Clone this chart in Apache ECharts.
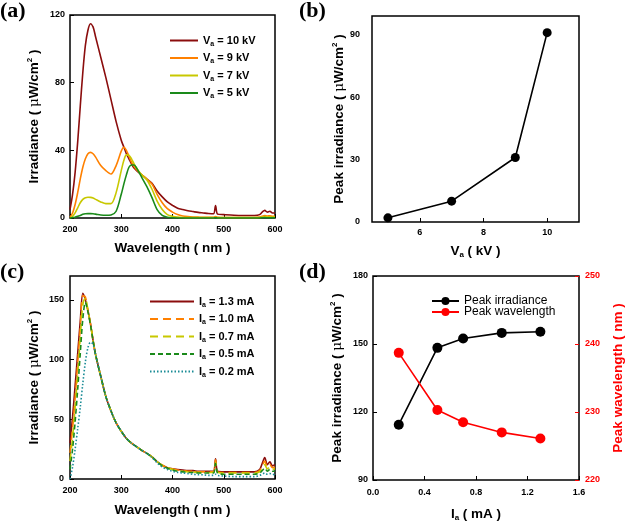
<!DOCTYPE html>
<html>
<head>
<meta charset="utf-8">
<script src="https://cdn.jsdelivr.net/npm/echarts@6/dist/echarts.min.js"></script>
<style>
  html, body { margin: 0; padding: 0; background: #fff; }
  #chart { width: 626px; height: 523px; }
</style>
</head>
<body>
<div id="chart"></div>
<script>
// (a) spectra vs. acceleration voltage
const wlA = [200,205,210,215,220,225,230,235,240,245,250,260,270,280,290,300,305,310,315,320,325,330,340,350,360,370,380,390,400,410,420,430,440,450,460,470,480,484,488,500,520,540,560,570,575,580,585,590,595,600]
const kv10 = [5,14,27,45,66,86,102,111,114.8,113,107,95,83,70,57,46,42,38,35,32,29.5,28,25.5,23,20.5,16,12.5,9.5,7.5,5.8,5,4.3,3.8,3.3,3,2.7,2.5,7.3,2.3,2,1.6,1.5,1.5,2,3.5,4.5,3.5,4,3,3]
const kv9 = [0.5,3,8,15,23,30,35,38,38.8,38,36,31,28,26,31,39.5,41.8,40,36.5,33,30.5,28.5,25.5,23,20,14,9,5.5,3.5,2,1.2,0.8,0.6,0.5,0.4,0.4,0.4,0.8,0.4,0.3,0.3,0.3,0.3,0.5,1,1.5,1.2,1.3,1,1]
const kv7 = [0,1,3,6,9,11,12,12.3,12.2,11.8,11,9.5,8.5,8.5,15,28,34,37.3,37,35,32,29.5,25.5,22.5,17,10,5,2,1,0.5,0.3,0.2,0.2,0.2,0.2,0.2,0.2,0.4,0.2,0.2,0.2,0.2,0.2,0.3,0.5,0.8,0.6,0.7,0.5,0.5]
const kv5 = [0,0.2,0.5,1,1.5,2.2,2.5,2.6,2.6,2.5,2.3,1.8,1.6,1.8,4,14,20,25.5,30,31.3,31.3,29.5,24,18.5,12,5,1.5,0.4,0.1,0,0,0,0,0,0,0,0,0.1,0,0,0,0,0,0,0.1,0.2,0.1,0.1,0.1,0.1]

// (b) peak irradiance vs. voltage
const voltB = [5, 7, 9, 10]
const peakB = [2, 10, 31, 91]

// (c) spectra vs. anode current
const wlC = [200,205,210,215,220,225,230,235,240,245,250,260,270,280,290,300,310,320,330,340,350,360,370,380,390,400,410,420,430,440,450,460,470,480,484,488,500,520,540,560,570,575,580,585,590,595,600]
const ma13 = [30,52,78,105,132,155.5,150,141,130,116,104,86,69,57,47,40,34,30,27,24,21.5,18.5,14.5,11.5,9.5,8.5,8,7.5,7,7,6.5,6.5,6.5,6.5,17,6.5,6,6,6,6,8,13,18,12,14.5,11,12]
const ma10 = [22,42,68,97,126,153.5,152.5,141,130,116,104,86,69,57,47,40,34,30,27,24,21.5,18.5,14.5,11.5,9.5,8.5,7.5,7,6.5,6.5,6,6,6,6,16,6,5.5,5.5,5.5,5.5,7,11,15,10,12,9.5,10]
const ma07 = [15,35,60,88,118,146,152,141,130,116,104,86,69,57,47,40,34,30,27,24,21.5,18.5,14.5,11.5,9.5,8,7,6.5,6,6,5.5,5.5,5.5,5.5,14,5.5,5,5,5,5,6,9,12,8.5,10,8,8.5]
const ma05 = [8,25,48,75,105,134,148,140,129,116,104,86,69,57,47,40,34,30,27,24,21.5,18.5,14.5,11,9,7.5,6.5,6,5.5,5.5,5,5,5,5,13,5,4,4,4,4,5,7,9,6.5,8,6.5,7]
const ma02 = [0,10,25,42,60,80,98,110,114.5,113,104,86,69,57,47,40,34,30,27,24,21.5,18,13.5,10,8,6.5,5.5,5,4.5,4,3.5,3.5,3,3,4,3,2.5,2,2,2,3,4,5,4,4.5,4,3.5]

// (d) peak irradiance / wavelength vs. current
const curD = [0.2, 0.5, 0.7, 1.0, 1.3]
const irrD = [114.4, 148.3, 152.4, 154.9, 155.4]
const wlD = [238.7, 230.3, 228.5, 227.0, 226.1]

const font = 'Liberation Sans, Arial, sans-serif'
const zip = (xs, ys) => xs.map((x, i) => [x, ys[i]])

const rich = {
  m: { fontSize: 13.5, fontWeight: 'bold', fontFamily: font },
  g: { fontSize: 13.5, fontWeight: 'normal', fontFamily: 'DejaVu Serif' },
  sup: { fontSize: 8, fontWeight: 'bold', fontFamily: font, verticalAlign: 'top', padding: [0, 0, 8, 0] },
  s: { fontSize: 8, fontWeight: 'bold', fontFamily: font, verticalAlign: 'bottom', padding: [8, 0, 0, 0] }
}
const legRich = {
  m: { fontSize: 11, fontWeight: 'bold', fontFamily: font },
  s: { fontSize: 7, fontWeight: 'bold', fontFamily: font, verticalAlign: 'bottom', padding: [7, 0, 0, 0] }
}
const irrName = '{m|Irradiance ( }{g|μ}{m|W/cm}{sup|2}{m| )}'
const peakName = '{m|Peak irradiance ( }{g|μ}{m|W/cm}{sup|2}{m| )}'

function xAx(grid, opt) {
  return Object.assign({
    type: 'value', gridIndex: grid,
    nameLocation: 'middle',
    nameTextStyle: { color: '#000', rich: rich },
    axisLine: { show: false },
    axisTick: { show: true, inside: true, length: 4, lineStyle: { color: '#000', width: 1 } },
    axisLabel: { color: '#000', fontSize: 9, fontWeight: 'bold', fontFamily: font, margin: 7 },
    splitLine: { show: false }
  }, opt)
}

function spec(name, data, color, grid, type) {
  return {
    name: name, type: 'line', xAxisIndex: grid, yAxisIndex: grid,
    data: data, symbol: 'none', smooth: 0.3,
    lineStyle: { color: color, width: 1.6, type: type || 'solid' },
    itemStyle: { color: color }
  }
}

const chart = echarts.init(document.getElementById('chart'))
chart.setOption({
  animation: false,
  backgroundColor: '#fff',
  title: [
    { text: '(a)', left: 0, top: 0 },
    { text: '(b)', left: 299, top: 0 },
    { text: '(c)', left: 0, top: 261 },
    { text: '(d)', left: 299, top: 261 }
  ].map(t => Object.assign(t, {
    padding: 0,
    textStyle: { fontFamily: 'Liberation Serif', fontWeight: 'bold', fontSize: 22, color: '#000' }
  })),
  grid: [
    { left: 70, top: 15, width: 205, height: 203 },
    { left: 372, top: 16, width: 207, height: 206 },
    { left: 70, top: 276, width: 205, height: 203 },
    { left: 373, top: 276, width: 206, height: 205 }
  ].map(g => Object.assign(g, { show: true, borderColor: '#000', borderWidth: 1.5, backgroundColor: 'transparent' })),
  legend: [
    {
      orient: 'vertical', left: 164, top: 30, itemWidth: 28, itemHeight: 10, itemGap: 5,
      data: ['10 kV', '9 kV', '7 kV', '5 kV'],
      itemStyle: { opacity: 0 },
      formatter: n => '{m|V}{s|a}{m| = ' + n + '}',
      textStyle: { color: '#000', rich: legRich }
    },
    {
      orient: 'vertical', left: 144, top: 291, itemWidth: 44, itemHeight: 10, itemGap: 5,
      data: ['1.3 mA', '1.0 mA', '0.7 mA', '0.5 mA', '0.2 mA'],
      itemStyle: { opacity: 0 },
      formatter: n => '{m|I}{s|a}{m| = ' + n + '}',
      textStyle: { color: '#000', rich: legRich }
    },
    {
      orient: 'vertical', left: 426, top: 290, itemWidth: 27, itemHeight: 10, itemGap: -1,
      data: ['Peak irradiance', 'Peak wavelength'],
      textStyle: { color: '#000', fontSize: 12, fontFamily: font, lineHeight: 11 }
    }
  ],
  xAxis: [
    xAx(0, { min: 200, max: 600, interval: 100, name: '{m|Wavelength ( nm )}', nameGap: 23 }),
    xAx(1, {
      min: 4.5, max: 11, name: '{m|V}{s|a}{m| ( kV )}', nameGap: 21,
      axisLabel: { color: '#000', fontSize: 9, fontWeight: 'bold', fontFamily: font, margin: 6, customValues: [6, 8, 10] },
      axisTick: { show: true, inside: true, length: 4, lineStyle: { color: '#000' }, customValues: [6, 8, 10] }
    }),
    xAx(2, { min: 200, max: 600, interval: 100, name: '{m|Wavelength ( nm )}', nameGap: 24 }),
    xAx(3, {
      min: 0, max: 1.6, interval: 0.4, name: '{m|I}{s|a}{m| ( mA )}', nameGap: 26,
      axisLabel: { color: '#000', fontSize: 9, fontWeight: 'bold', fontFamily: font, margin: 8, formatter: v => v.toFixed(1) }
    })
  ],
  yAxis: [
    xAx(0, { min: 0, max: 120, interval: 40, name: irrName, nameGap: 28,
      axisLabel: { color: '#000', fontSize: 9, fontWeight: 'bold', fontFamily: font, margin: 5 } }),
    xAx(1, {
      min: 0, max: 99, name: peakName, nameGap: 21,
      axisLabel: { color: '#000', fontSize: 9, fontWeight: 'bold', fontFamily: font, margin: 12, customValues: [0, 30, 60, 90] },
      axisTick: { show: false }
    }),
    xAx(2, {
      min: 0, max: 170, name: irrName, nameGap: 28,
      axisLabel: { color: '#000', fontSize: 9, fontWeight: 'bold', fontFamily: font, margin: 6, customValues: [0, 50, 100, 150] },
      axisTick: { show: true, inside: true, length: 4, lineStyle: { color: '#000' }, customValues: [0, 50, 100, 150] }
    }),
    xAx(3, { min: 90, max: 180, interval: 30, name: peakName, nameGap: 28,
      axisLabel: { color: '#000', fontSize: 9, fontWeight: 'bold', fontFamily: font, margin: 5 } }),
    xAx(3, {
      position: 'right', min: 220, max: 250, interval: 10, nameRotate: 90,
      name: 'Peak wavelength ( nm )', nameGap: 32,
      nameTextStyle: { color: '#f00', fontSize: 13.5, fontWeight: 'bold', fontFamily: font },
      axisTick: { show: true, inside: true, length: 4, lineStyle: { color: '#f00' } },
      axisLabel: { color: '#f00', fontSize: 9, fontWeight: 'bold', fontFamily: font, margin: 6 }
    })
  ],
  series: [
    spec('10 kV', zip(wlA, kv10), '#8b0d0d', 0),
    spec('9 kV', zip(wlA, kv9), '#ff8000', 0),
    spec('7 kV', zip(wlA, kv7), '#c8c800', 0),
    spec('5 kV', zip(wlA, kv5), '#1a8a1a', 0),
    {
      type: 'line', xAxisIndex: 1, yAxisIndex: 1, data: zip(voltB, peakB),
      symbol: 'circle', symbolSize: 9,
      lineStyle: { color: '#000', width: 1.6 }, itemStyle: { color: '#000' }
    },
    spec('1.3 mA', zip(wlC, ma13), '#8b0d0d', 2),
    spec('1.0 mA', zip(wlC, ma10), '#ff8000', 2, [8, 5]),
    spec('0.7 mA', zip(wlC, ma07), '#c8c800', 2, [8, 5]),
    spec('0.5 mA', zip(wlC, ma05), '#1a8a1a', 2, [5, 3]),
    spec('0.2 mA', zip(wlC, ma02), '#1a8c96', 2, [1.5, 2]),
    {
      name: 'Peak irradiance', type: 'line', xAxisIndex: 3, yAxisIndex: 3, data: zip(curD, irrD),
      symbol: 'circle', symbolSize: 10,
      lineStyle: { color: '#000', width: 1.6 }, itemStyle: { color: '#000' }
    },
    {
      name: 'Peak wavelength', type: 'line', xAxisIndex: 3, yAxisIndex: 4, data: zip(curD, wlD),
      symbol: 'circle', symbolSize: 10,
      lineStyle: { color: '#f00', width: 1.6 }, itemStyle: { color: '#f00' }
    }
  ]
})
</script>
</body>
</html>
